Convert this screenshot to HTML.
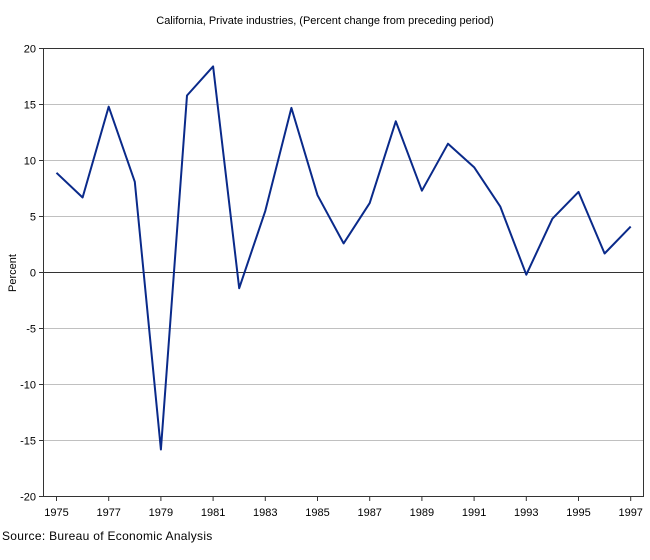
<!DOCTYPE html>
<html><head><style>
html,body{margin:0;padding:0;background:#fff;}
svg{display:block;font-family:"Liberation Sans","DejaVu Sans",sans-serif;}
</style></head><body>
<svg width="650" height="560" viewBox="0 0 650 560" xmlns="http://www.w3.org/2000/svg">
<rect width="650" height="560" fill="#fff"/>
<text x="325" y="24" font-size="11" text-anchor="middle" fill="#000">California, Private industries, (Percent change from preceding period)</text>
<g stroke="#c0c0c0" stroke-width="1">
<line x1="43.5" x2="643.5" y1="104.5" y2="104.5"/>
<line x1="43.5" x2="643.5" y1="160.5" y2="160.5"/>
<line x1="43.5" x2="643.5" y1="216.5" y2="216.5"/>
<line x1="43.5" x2="643.5" y1="328.5" y2="328.5"/>
<line x1="43.5" x2="643.5" y1="384.5" y2="384.5"/>
<line x1="43.5" x2="643.5" y1="440.5" y2="440.5"/>
</g>
<line x1="43.5" x2="643.5" y1="272.5" y2="272.5" stroke="#333" stroke-width="1"/>
<rect x="43.5" y="48.5" width="600" height="448" fill="none" stroke="#333" stroke-width="1"/>
<g stroke="#333" stroke-width="1">
<line x1="39" x2="43.5" y1="48.5" y2="48.5"/>
<line x1="39" x2="43.5" y1="104.5" y2="104.5"/>
<line x1="39" x2="43.5" y1="160.5" y2="160.5"/>
<line x1="39" x2="43.5" y1="216.5" y2="216.5"/>
<line x1="39" x2="43.5" y1="272.5" y2="272.5"/>
<line x1="39" x2="43.5" y1="328.5" y2="328.5"/>
<line x1="39" x2="43.5" y1="384.5" y2="384.5"/>
<line x1="39" x2="43.5" y1="440.5" y2="440.5"/>
<line x1="39" x2="43.5" y1="496.5" y2="496.5"/>
<line x1="56.5" x2="56.5" y1="496.5" y2="501"/>
<line x1="108.7" x2="108.7" y1="496.5" y2="501"/>
<line x1="160.9" x2="160.9" y1="496.5" y2="501"/>
<line x1="213.1" x2="213.1" y1="496.5" y2="501"/>
<line x1="265.3" x2="265.3" y1="496.5" y2="501"/>
<line x1="317.5" x2="317.5" y1="496.5" y2="501"/>
<line x1="369.7" x2="369.7" y1="496.5" y2="501"/>
<line x1="421.9" x2="421.9" y1="496.5" y2="501"/>
<line x1="474.1" x2="474.1" y1="496.5" y2="501"/>
<line x1="526.3" x2="526.3" y1="496.5" y2="501"/>
<line x1="578.5" x2="578.5" y1="496.5" y2="501"/>
<line x1="630.7" x2="630.7" y1="496.5" y2="501"/>
</g>
<g font-size="11" fill="#000" text-anchor="end">
<text x="36" y="52.5">20</text>
<text x="36" y="108.5">15</text>
<text x="36" y="164.5">10</text>
<text x="36" y="220.5">5</text>
<text x="36" y="276.5">0</text>
<text x="36" y="332.5">-5</text>
<text x="36" y="388.5">-10</text>
<text x="36" y="444.5">-15</text>
<text x="36" y="500.5">-20</text>
</g>
<g font-size="11" fill="#000" text-anchor="middle">
<text x="56.5" y="516">1975</text>
<text x="108.7" y="516">1977</text>
<text x="160.9" y="516">1979</text>
<text x="213.1" y="516">1981</text>
<text x="265.3" y="516">1983</text>
<text x="317.5" y="516">1985</text>
<text x="369.7" y="516">1987</text>
<text x="421.9" y="516">1989</text>
<text x="474.1" y="516">1991</text>
<text x="526.3" y="516">1993</text>
<text x="578.5" y="516">1995</text>
<text x="630.7" y="516">1997</text>
</g>
<text transform="translate(16,273) rotate(-90)" font-size="11" text-anchor="middle" fill="#000">Percent</text>
<text x="2" y="540" font-size="12" fill="#000" letter-spacing="0.3">Source: Bureau of Economic Analysis</text>
<polyline fill="none" stroke="#0a2a8a" stroke-width="2" stroke-linejoin="round" points="
56.5,172.8 82.6,197.5 108.7,106.7 134.8,181.8 160.9,449.5 187.0,95.5 213.1,66.4 239.2,288.2 265.3,210.9 291.4,107.9 317.5,195.2 343.6,243.4 369.7,203.1 395.8,121.3 421.9,190.7 448.0,143.7 474.1,167.2 500.2,206.4 526.3,274.7 552.4,218.7 578.5,191.9 604.6,253.5 630.7,226.6"/>
</svg>
</body></html>
